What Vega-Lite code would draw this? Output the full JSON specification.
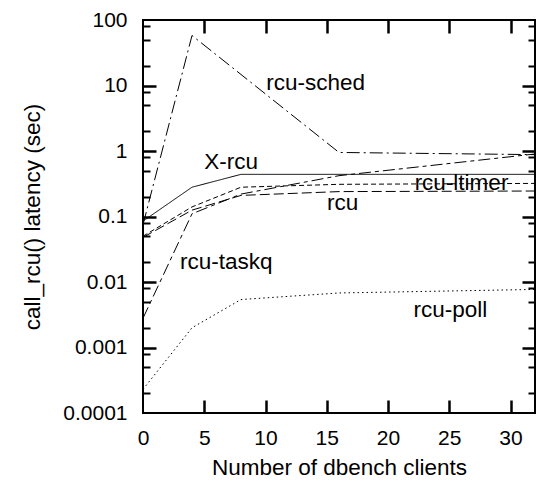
{
  "$schema": "https://vega.github.io/schema/vega-lite/v6.json",
  "width": 392,
  "height": 393,
  "autosize": "none",
  "padding": {"left": 143, "top": 20, "right": 4, "bottom": 74},
  "background": "white",
  "config": {
    "view": {"stroke": "black", "strokeWidth": 2},
    "font": "Liberation Sans",
    "axis": {
      "grid": false,
      "domain": false,
      "labelFont": "Liberation Sans",
      "titleFont": "Liberation Sans",
      "labelColor": "black",
      "titleColor": "black",
      "labelFontSize": 21,
      "titleFontSize": 22.5,
      "titleFontWeight": "normal",
      "labelOverlap": false,
      "labelFlush": false
    }
  },
  "datasets": {
    "lines": [
      {"s": "rcu-sched", "x": 0, "y": 0.075},
      {"s": "rcu-sched", "x": 4, "y": 58},
      {"s": "rcu-sched", "x": 16, "y": 0.95},
      {"s": "rcu-sched", "x": 32, "y": 0.88},
      {"s": "X-rcu", "x": 0, "y": 0.085},
      {"s": "X-rcu", "x": 4, "y": 0.28},
      {"s": "X-rcu", "x": 8, "y": 0.44},
      {"s": "X-rcu", "x": 16, "y": 0.44},
      {"s": "X-rcu", "x": 32, "y": 0.44},
      {"s": "rcu-ltimer", "x": 0, "y": 0.05},
      {"s": "rcu-ltimer", "x": 4, "y": 0.14},
      {"s": "rcu-ltimer", "x": 8, "y": 0.28},
      {"s": "rcu-ltimer", "x": 16, "y": 0.31},
      {"s": "rcu-ltimer", "x": 32, "y": 0.32},
      {"s": "rcu", "x": 0, "y": 0.048},
      {"s": "rcu", "x": 4, "y": 0.125},
      {"s": "rcu", "x": 8, "y": 0.21},
      {"s": "rcu", "x": 16, "y": 0.24},
      {"s": "rcu", "x": 32, "y": 0.245},
      {"s": "rcu-taskq", "x": 0, "y": 0.0028},
      {"s": "rcu-taskq", "x": 4, "y": 0.11},
      {"s": "rcu-taskq", "x": 8, "y": 0.22},
      {"s": "rcu-taskq", "x": 16, "y": 0.42},
      {"s": "rcu-taskq", "x": 32, "y": 0.9},
      {"s": "rcu-poll", "x": 0, "y": 0.00023},
      {"s": "rcu-poll", "x": 4, "y": 0.002},
      {"s": "rcu-poll", "x": 8, "y": 0.0054},
      {"s": "rcu-poll", "x": 16, "y": 0.0068},
      {"s": "rcu-poll", "x": 32, "y": 0.0077}
    ],
    "labels": [
      {"t": "rcu-sched", "x": 14.1, "y": 10.8},
      {"t": "X-rcu", "x": 7.2, "y": 0.69},
      {"t": "rcu-ltimer", "x": 26.0, "y": 0.32},
      {"t": "rcu", "x": 16.3, "y": 0.163},
      {"t": "rcu-taskq", "x": 6.8, "y": 0.0204},
      {"t": "rcu-poll", "x": 25.1, "y": 0.0037}
    ]
  },
  "layer": [
    {
      "data": {"name": "lines"},
      "mark": {"type": "line", "strokeWidth": 1, "color": "black"},
      "encoding": {
        "x": {"field": "x", "type": "quantitative", "scale": {"domain": [0, 32], "nice": false, "zero": false},
          "axis": {"orient": "bottom", "values": [0, 5, 10, 15, 20, 25, 30], "ticks": false, "labelPadding": 14, "title": "Number of dbench clients", "titlePadding": 8}},
        "y": {"field": "y", "type": "quantitative", "scale": {"type": "log", "domain": [0.0001, 100], "nice": false},
          "axis": {"orient": "left", "values": [0.0001, 0.001, 0.01, 0.1, 1, 10, 100], "format": "~g", "ticks": false, "labelPadding": 16, "title": "call_rcu() latency (sec)", "titlePadding": 18}},
        "strokeDash": {"field": "s", "type": "nominal", "legend": null,
          "scale": {"domain": ["rcu-sched", "X-rcu", "rcu-ltimer", "rcu", "rcu-taskq", "rcu-poll"],
                    "range": [[13, 4, 2, 4], [1, 0], [5, 3], [10, 4], [12, 4, 4, 4], [1.5, 3]]}},
        "order": {"field": "x", "type": "quantitative"}
      }
    },
    {
      "data": {"name": "lines"},
      "mark": {"type": "point", "opacity": 0},
      "encoding": {
        "x": {"field": "x", "type": "quantitative", "axis": {"orient": "bottom", "values": [5, 10, 15, 20, 25, 30], "labels": false, "ticks": true, "tickColor": "#000000", "tickWidth": 2.5, "tickSize": 13, "offset": -13, "title": null, "zindex": 5}},
        "y": {"field": "y", "type": "quantitative", "axis": {"orient": "left", "values": [0.001, 0.01, 0.1, 1, 10], "labels": false, "ticks": true, "tickColor": "#000000", "tickWidth": 2.5, "tickSize": 13, "translate": 13.5, "position": -13, "title": null, "zindex": 5}}
      }
    },
    {
      "data": {"name": "lines"},
      "mark": {"type": "point", "opacity": 0},
      "encoding": {
        "x": {"field": "x", "type": "quantitative", "axis": {"orient": "top", "values": [5, 10, 15, 20, 25, 30], "labels": false, "ticks": true, "tickColor": "#000000", "tickWidth": 2.5, "tickSize": 13, "offset": -13, "title": null, "zindex": 5}},
        "y": {"field": "y", "type": "quantitative", "axis": {"orient": "right", "values": [0.001, 0.01, 0.1, 1, 10], "labels": false, "ticks": true, "tickColor": "#000000", "tickWidth": 2.5, "tickSize": 13, "offset": -13, "title": null, "zindex": 5}}
      }
    },
    {
      "data": {"name": "lines"},
      "mark": {"type": "point", "opacity": 0},
      "encoding": {
        "x": {"field": "x", "type": "quantitative", "axis": null},
        "y": {"field": "y", "type": "quantitative", "axis": {"orient": "left", "values": [0.0002, 0.0005, 0.0008, 0.002, 0.005, 0.008, 0.02, 0.05, 0.08, 0.2, 0.5, 0.8, 2, 5, 8, 20, 50, 80], "labels": false, "ticks": true, "tickColor": "#000000", "tickWidth": 2, "tickSize": 7, "translate": 7.5, "position": -7, "title": null, "zindex": 5}}
      }
    },
    {
      "data": {"name": "lines"},
      "mark": {"type": "point", "opacity": 0},
      "encoding": {
        "x": {"field": "x", "type": "quantitative", "axis": null},
        "y": {"field": "y", "type": "quantitative", "axis": {"orient": "right", "values": [0.0002, 0.0005, 0.0008, 0.002, 0.005, 0.008, 0.02, 0.05, 0.08, 0.2, 0.5, 0.8, 2, 5, 8, 20, 50, 80], "labels": false, "ticks": true, "tickColor": "#000000", "tickWidth": 2, "tickSize": 7, "offset": -7, "title": null, "zindex": 5}}
      }
    },
    {
      "data": {"name": "labels"},
      "mark": {"type": "text", "fontSize": 22.5, "font": "Liberation Sans", "color": "black", "align": "center", "baseline": "middle"},
      "encoding": {
        "x": {"field": "x", "type": "quantitative", "axis": null},
        "y": {"field": "y", "type": "quantitative", "axis": null},
        "text": {"field": "t", "type": "nominal"}
      }
    }
  ],
  "resolve": {"axis": {"x": "independent", "y": "independent"}}
}
